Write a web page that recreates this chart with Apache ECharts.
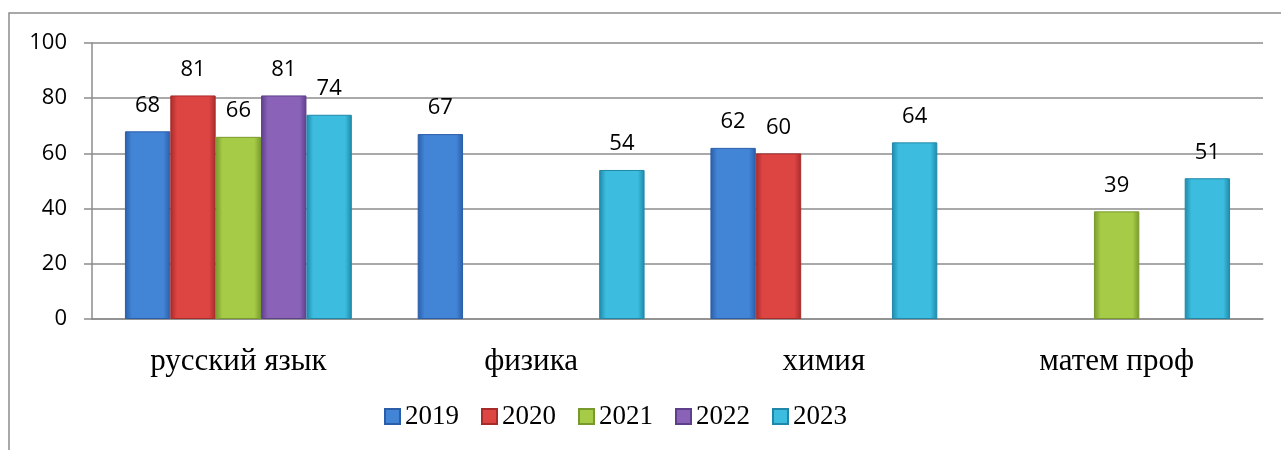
<!DOCTYPE html>
<html>
<head>
<meta charset="utf-8">
<script src="https://cdn.jsdelivr.net/npm/echarts@6/dist/echarts.min.js"></script>
<style>
    html, body { margin: 0; padding: 0; background: #fff; }
    #chart { width: 1281px; height: 450px; }
</style>
</head>
<body>
<div id="chart"></div>
<script>
const categories = ['русский язык', 'физика', 'химия', 'матем проф']
const years = ['2019', '2020', '2021', '2022', '2023']
// null = нет данных, место под столбец остаётся пустым
const v2019 = [68, 67, 62, null]
const v2020 = [81, null, 60, null]
const v2021 = [66, null, null, 39]
const v2022 = [81, null, null, null]
const v2023 = [74, 54, 64, 51]
const yTicks = [0, 20, 40, 60, 80, 100]

const values = [v2019, v2020, v2021, v2022, v2023]
// [край, середина] для каждого года
const colors = [
    ['#2a5ea9', '#4284d6'],
    ['#a82b2b', '#dd4543'],
    ['#789a2c', '#a6cb47'],
    ['#5d3f8a', '#8a62b8'],
    ['#1f88a8', '#3cbde0']
]

function barFill(c) {
    return new echarts.graphic.LinearGradient(0, 0, 1, 0, [
        {offset: 0, color: c[0]},
        {offset: 0.15, color: c[1]},
        {offset: 0.85, color: c[1]},
        {offset: 1, color: c[0]}
    ])
}

const chart = echarts.init(document.getElementById('chart'))
chart.setOption({
    animation: false,
    graphic: [{
        type: 'rect',
        z: -1,
        shape: {x: 9, y: 13, width: 1400, height: 600},
        style: {fill: 'none', stroke: '#8c8c8c', lineWidth: 1.5}
    }],
    legend: {
        left: 384,
        top: 403,
        padding: 0,
        icon: 'rect',
        itemWidth: 15,
        itemHeight: 15,
        itemGap: 22,
        data: years,
        textStyle: {
            fontFamily: 'Liberation Serif',
            fontSize: 27,
            color: '#000'
        }
    },
    grid: {
        left: 92,
        right: 18,
        top: 43,
        bottom: 131
    },
    xAxis: {
        type: 'category',
        data: categories,
        axisLine: {lineStyle: {color: '#8c8c8c', width: 1.5}},
        axisTick: {length: 8, lineStyle: {color: '#8c8c8c', width: 1.5}},
        axisLabel: {
            margin: 27,
            fontFamily: 'Liberation Serif',
            fontSize: 31,
            color: '#000'
        }
    },
    yAxis: {
        type: 'value',
        min: yTicks[0],
        max: yTicks[yTicks.length - 1],
        interval: 20,
        axisLine: {show: true, lineStyle: {color: '#8c8c8c', width: 1.5}},
        axisTick: {show: true, length: 8, lineStyle: {color: '#8c8c8c', width: 1.5}},
        splitLine: {lineStyle: {color: '#8c8c8c', width: 1.5}},
        axisLabel: {
            margin: 25,
            fontFamily: 'Open Sans',
            fontSize: 22,
            color: '#000'
        }
    },
    series: years.map((y, i) => ({
        name: y,
        type: 'bar',
        barGap: 0,
        barCategoryGap: '22.5%',
        data: values[i],
        itemStyle: {
            color: barFill(colors[i]),
            borderColor: colors[i][0],
            borderWidth: 1
        },
        label: {
            show: true,
            position: 'top',
            distance: 15,
            fontFamily: 'Open Sans',
            fontSize: 22,
            color: '#000'
        }
    }))
})
</script>
</body>
</html>
